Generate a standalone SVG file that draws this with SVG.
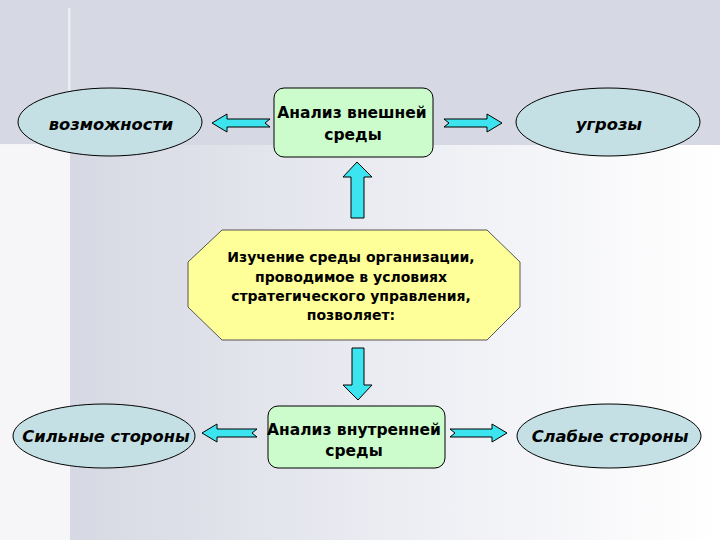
<svg xmlns="http://www.w3.org/2000/svg" width="720" height="540" viewBox="0 0 720 540">
<defs>
<linearGradient id="bg" x1="0" y1="0" x2="1" y2="0">
<stop offset="0" stop-color="#d6d8e3"/>
<stop offset="0.55" stop-color="#eeeff4"/>
<stop offset="1" stop-color="#ffffff"/>
</linearGradient>
<style>
.ell{fill:#c4e0e4;stroke:#000;stroke-width:1}
.box{fill:#ccfccc;stroke:#000;stroke-width:1}
.oct{fill:#ffff99;stroke:#555;stroke-width:1}
.arr{fill:#3ce4f0;stroke:#000;stroke-width:1;stroke-linejoin:miter}
.lbl{font-family:"DejaVu Sans",Verdana,sans-serif;font-weight:bold;font-style:italic;font-size:16.3px;fill:#000;text-anchor:middle}
.bt{font-family:"DejaVu Sans",Verdana,sans-serif;font-weight:bold;font-size:15.5px;fill:#000;text-anchor:middle}
.ot{font-family:"DejaVu Sans",Verdana,sans-serif;font-weight:bold;font-size:14px;fill:#000;text-anchor:middle}
</style>
</defs>
<g id="background">
<rect x="0" y="0" width="720" height="540" fill="#f6f6f9"/>
<rect x="70" y="145" width="650" height="395" fill="url(#bg)"/>
<rect x="0" y="0" width="720" height="145" fill="#d6d9e3"/>
<rect x="68" y="8" width="2.5" height="137" fill="#eceef3"/>
<rect x="0" y="144" width="68" height="2.5" fill="#f4f5f8"/>
</g>
<g id="connectors">
<path class="arr" d="M212,123 L227,114 L227,119 L270,119 L265,123 L270,127 L227,127 L227,132 Z"/>
<path class="arr" d="M502,123 L487,114 L487,119 L444,119 L449,123 L444,127 L487,127 L487,132 Z"/>
<path class="arr" d="M357,162 L372,177 L364,177 L364,218 L351,218 L351,177 L343,177 Z"/>
<path class="arr" d="M358,400 L372,385 L364,385 L364,348 L352,348 L352,385 L343,385 Z"/>
<path class="arr" d="M202,433 L217,424 L217,429 L257,429 L252,433 L257,437 L217,437 L217,442 Z"/>
<path class="arr" d="M507,433 L492,424 L492,429 L450,429 L455,433 L450,437 L492,437 L492,442 Z"/>
</g>
<g id="opportunities">
<ellipse class="ell" cx="110" cy="122" rx="92" ry="34"/>
<text class="lbl" x="111" y="130">возможности</text>
</g>
<g id="external">
<rect class="box" x="274" y="88" width="159" height="69" rx="10" ry="10"/>
<text class="bt" x="352" y="118">Анализ внешней</text>
<text class="bt" x="353" y="140">среды</text>
</g>
<g id="threats">
<ellipse class="ell" cx="608" cy="122" rx="92" ry="34"/>
<text class="lbl" x="609" y="130">угрозы</text>
</g>
<g id="study">
<polygon class="oct" points="222,230 487,230 520,262 520,307 487,340 222,340 188,307 188,262"/>
<text class="ot" x="351" y="262">Изучение среды организации,</text>
<text class="ot" x="351" y="282">проводимое в условиях</text>
<text class="ot" x="351" y="301">стратегического управления,</text>
<text class="ot" x="351" y="320">позволяет:</text>
</g>
<g id="strengths">
<ellipse class="ell" cx="104" cy="436" rx="91" ry="32"/>
<text class="lbl" x="106" y="442">Сильные стороны</text>
</g>
<g id="internal">
<rect class="box" x="268" y="406" width="177" height="62" rx="10" ry="10"/>
<text class="bt" x="354" y="435">Анализ внутренней</text>
<text class="bt" x="354" y="456">среды</text>
</g>
<g id="weaknesses">
<ellipse class="ell" cx="609" cy="436" rx="92" ry="32"/>
<text class="lbl" x="610" y="442">Слабые стороны</text>
</g>
</svg>
